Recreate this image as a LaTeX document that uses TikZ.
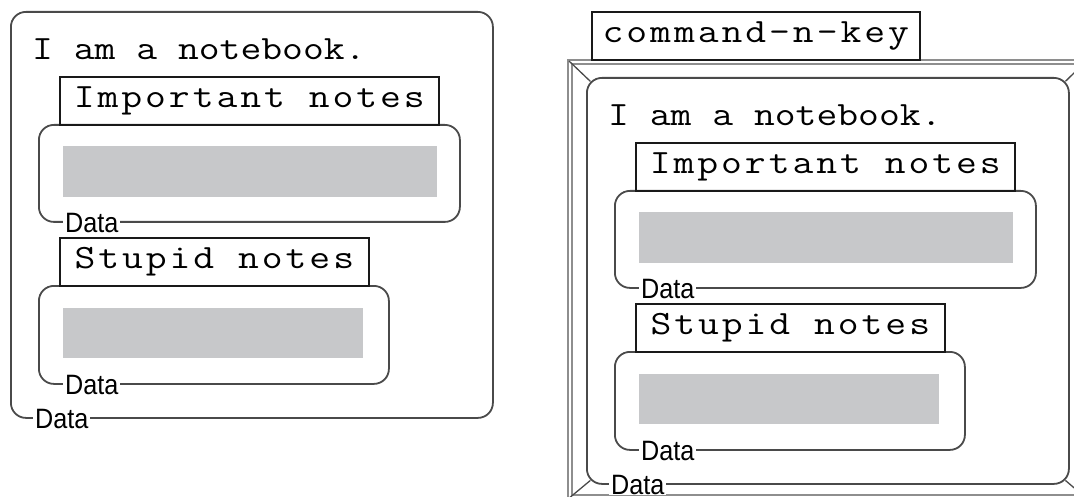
\documentclass[tikz,border=0pt]{standalone}
\usepackage{fontspec}
\usetikzlibrary{calc}
\newfontfamily\monofnt{Latin Modern Mono}
\newfontfamily\monosp[LetterSpace=7.3]{Latin Modern Mono}
\newfontfamily\sansfnt{Liberation Sans}
\newcommand{\stretchtxt}[1]{\scalebox{1.19}[1]{#1}}
\newcommand{\narrowtxt}[1]{\scalebox{0.9}[1]{#1}}
\definecolor{fillgray}{HTML}{C7C8CA}
\definecolor{linegray}{HTML}{4A4A4A}
\definecolor{framegray}{HTML}{8E8E8E}
\begin{document}
\begin{tikzpicture}[x=1pt,y=-1pt,
  nbbox/.style={draw=linegray, line width=1.8pt, rounded corners=15pt, inner sep=0pt, anchor=north west},
  labelbox/.style={draw=black!90, line width=1.6pt, inner sep=0pt, anchor=north west, minimum height=48pt,
    font=\monosp\fontsize{34}{40}\selectfont},
  titletext/.style={inner sep=0pt, anchor=base west, font=\monofnt\fontsize{34}{40}\selectfont},
  graybar/.style={fill=fillgray, draw=none, inner sep=0pt, anchor=north west, minimum height=51pt},
  datalabel/.style={fill=white, inner xsep=2pt, inner ysep=0pt, anchor=west, font=\sansfnt\fontsize{28}{30}\selectfont},
  framebox/.style={draw=framegray, double=white, double distance=2pt, line width=2.2pt, inner sep=0pt, anchor=north west},
  bevel/.style={draw=linegray, line width=1.3pt}
]
\useasboundingbox (0,0) rectangle (1074,497);
\clip (0,0) rectangle (1074,497);

% ---------------- left notebook ----------------
\node[nbbox, minimum width=482pt, minimum height=406pt] (nbL) at (10,11) {};
\node[titletext] (titleL) at (32,60) {\stretchtxt{I am a notebook.}};
\node[nbbox, minimum width=421pt, minimum height=97pt] (d1L) at (38,124) {};
\node[graybar, minimum width=374pt] (g1L) at (63,146) {};
\node[labelbox, minimum width=379pt] (impL) at (59,76) {\stretchtxt{Important notes}};
\node[nbbox, minimum width=350pt, minimum height=98pt] (d2L) at (38,285) {};
\node[graybar, minimum width=300pt, minimum height=50pt] (g2L) at (63,308) {};
\node[labelbox, minimum width=309pt] (stuL) at (59,237) {\stretchtxt{Stupid notes}};
\node[datalabel] (dl1L) at ($(d1L.south west)+(25,0)$) {\narrowtxt{Data}};
\node[datalabel] (dl2L) at ($(d2L.south west)+(25,0)$) {\narrowtxt{Data}};
\node[datalabel] (dl0L) at ($(nbL.south west)+(23,0)$) {\narrowtxt{Data}};

% ---------------- right notebook ----------------
\node[framebox, minimum width=515pt, minimum height=435pt] (frR) at (569,61) {};
\node[labelbox, minimum width=328pt] (cmdR) at (591,11) {\stretchtxt{command-n-key}};
\begin{scope}[shift={(576,66)}]
\node[nbbox, minimum width=482pt, minimum height=406pt] (nbR) at (10,11) {};
\node[titletext] (titleR) at (32,60) {\stretchtxt{I am a notebook.}};
\node[nbbox, minimum width=421pt, minimum height=97pt] (d1R) at (38,124) {};
\node[graybar, minimum width=374pt] (g1R) at (63,146) {};
\node[labelbox, minimum width=379pt] (impR) at (59,76) {\stretchtxt{Important notes}};
\node[nbbox, minimum width=350pt, minimum height=98pt] (d2R) at (38,285) {};
\node[graybar, minimum width=300pt, minimum height=50pt] (g2R) at (63,308) {};
\node[labelbox, minimum width=309pt] (stuR) at (59,237) {\stretchtxt{Stupid notes}};
\end{scope}
\draw[bevel] (frR.north west) -- ($(nbR.north west)+(4.4,4.4)$);
\draw[bevel] (frR.north east) -- ($(nbR.north east)+(-4.4,4.4)$);
\draw[bevel] (frR.south west) -- ($(nbR.south west)+(4.4,-4.4)$);
\draw[bevel] (frR.south east) -- ($(nbR.south east)+(-4.4,-4.4)$);
\node[datalabel] (dl1R) at ($(d1R.south west)+(25,0)$) {\narrowtxt{Data}};
\node[datalabel] (dl2R) at ($(d2R.south west)+(25,0)$) {\narrowtxt{Data}};
\node[datalabel] (dl0R) at ($(nbR.south west)+(23,0)$) {\narrowtxt{Data}};
\end{tikzpicture}
\end{document}
